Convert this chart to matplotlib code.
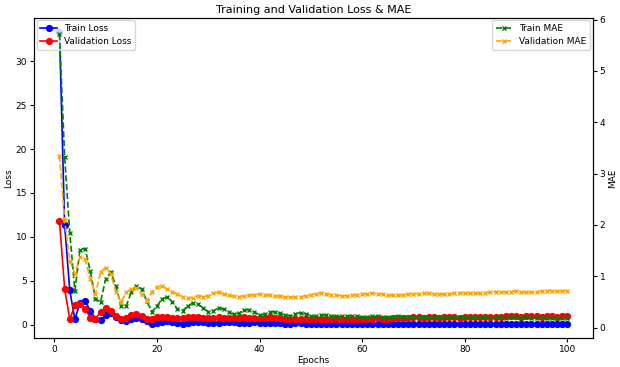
import numpy as np
import matplotlib.pyplot as plt

epochs = list(range(1, 101))

train_loss = [33.3, 11.4, 3.9, 0.6, 2.5, 2.7, 1.6, 0.7, 0.5, 1.1,
              1.3, 0.9, 0.5, 0.4, 0.6, 0.8, 0.6, 0.4, 0.1, 0.2,
              0.3, 0.4, 0.3, 0.15, 0.1, 0.2, 0.3, 0.35, 0.3, 0.2,
              0.15, 0.2, 0.25, 0.3, 0.25, 0.2, 0.15, 0.2, 0.25, 0.2,
              0.15, 0.2, 0.2, 0.15, 0.1, 0.1, 0.15, 0.15, 0.1, 0.1,
              0.1, 0.12, 0.1, 0.1, 0.12, 0.1, 0.1, 0.1, 0.12, 0.1,
              0.1, 0.1, 0.12, 0.1, 0.1, 0.1, 0.1, 0.12, 0.1, 0.1,
              0.1, 0.1, 0.1, 0.12, 0.1, 0.1, 0.1, 0.1, 0.1, 0.1,
              0.1, 0.1, 0.1, 0.1, 0.1, 0.1, 0.1, 0.1, 0.1, 0.1,
              0.1, 0.1, 0.1, 0.1, 0.1, 0.1, 0.1, 0.1, 0.1, 0.1]

val_loss = [11.8, 4.1, 0.6, 2.2, 2.4, 1.8, 0.8, 0.7, 1.4, 1.9,
            1.6, 1.0, 0.7, 0.8, 1.1, 1.2, 1.0, 0.7, 0.7, 0.9,
            0.9, 0.85, 0.8, 0.75, 0.8, 0.85, 0.9, 0.85, 0.8, 0.75,
            0.8, 0.85, 0.8, 0.8, 0.75, 0.8, 0.85, 0.8, 0.75, 0.8,
            0.8, 0.85, 0.8, 0.75, 0.7, 0.65, 0.65, 0.7, 0.7, 0.65,
            0.65, 0.7, 0.7, 0.65, 0.7, 0.7, 0.7, 0.65, 0.7, 0.7,
            0.7, 0.7, 0.75, 0.7, 0.7, 0.75, 0.75, 0.8, 0.8, 0.85,
            0.85, 0.8, 0.85, 0.85, 0.8, 0.85, 0.85, 0.85, 0.8, 0.85,
            0.85, 0.85, 0.9, 0.85, 0.85, 0.9, 0.9, 0.95, 0.95, 0.95,
            0.9, 0.95, 0.95, 0.95, 0.9, 0.95, 0.95, 0.9, 0.95, 0.95]

train_mae = [5.72, 3.33, 1.85, 0.72, 1.52, 1.54, 1.10, 0.56, 0.50, 0.94,
             1.08, 0.81, 0.42, 0.42, 0.69, 0.81, 0.75, 0.52, 0.31, 0.42,
             0.56, 0.60, 0.50, 0.36, 0.33, 0.42, 0.48, 0.46, 0.38, 0.31,
             0.33, 0.38, 0.36, 0.30, 0.26, 0.28, 0.34, 0.35, 0.30, 0.25,
             0.26, 0.30, 0.31, 0.28, 0.24, 0.23, 0.27, 0.29, 0.27, 0.23,
             0.22, 0.24, 0.25, 0.23, 0.22, 0.22, 0.23, 0.23, 0.22, 0.21,
             0.21, 0.22, 0.22, 0.21, 0.21, 0.21, 0.22, 0.21, 0.21, 0.20,
             0.21, 0.21, 0.20, 0.20, 0.21, 0.20, 0.20, 0.20, 0.21, 0.20,
             0.20, 0.20, 0.20, 0.20, 0.19, 0.20, 0.20, 0.19, 0.20, 0.20,
             0.19, 0.20, 0.19, 0.19, 0.20, 0.19, 0.19, 0.19, 0.19, 0.19]

val_mae = [3.35, 2.1, 1.3, 1.05, 1.37, 1.33, 0.94, 0.65, 1.08, 1.17,
           1.04, 0.69, 0.50, 0.69, 0.75, 0.77, 0.65, 0.52, 0.69, 0.79,
           0.81, 0.75, 0.69, 0.65, 0.60, 0.58, 0.58, 0.62, 0.60, 0.62,
           0.67, 0.69, 0.66, 0.63, 0.61, 0.60, 0.62, 0.63, 0.64, 0.65,
           0.64, 0.63, 0.62, 0.61, 0.60, 0.60, 0.59, 0.60, 0.62, 0.64,
           0.66, 0.67, 0.66, 0.64, 0.63, 0.62, 0.62, 0.63, 0.64, 0.65,
           0.66, 0.67, 0.66, 0.65, 0.64, 0.63, 0.63, 0.64, 0.65, 0.66,
           0.66, 0.67, 0.67, 0.66, 0.65, 0.65, 0.66, 0.67, 0.68, 0.68,
           0.68, 0.67, 0.67, 0.68, 0.69, 0.70, 0.70, 0.69, 0.70, 0.71,
           0.70, 0.69, 0.69, 0.70, 0.71, 0.72, 0.72, 0.71, 0.72, 0.72]

fig, ax1 = plt.subplots(figsize=(6.2, 3.67), dpi=100)
fig.subplots_adjust(left=0.055, right=0.956, bottom=0.078, top=0.952)

ax1.plot(epochs, train_loss, "b-o", label="Train Loss", markersize=4.2, linewidth=1.2)
ax1.plot(epochs, val_loss, "r-o", label="Validation Loss", markersize=4.2, linewidth=1.2)
ax1.set_xlabel("Epochs", fontsize=6.5, labelpad=1)
ax1.set_ylabel("Loss", fontsize=6.5, labelpad=2)
ax1.tick_params(labelsize=6.5, length=3, pad=2)
ax1.legend(loc="upper left", fontsize=6.5, borderaxespad=0.3, handlelength=1.8)

ax2 = ax1.twinx()
ax2.plot(epochs, train_mae, "g--x", label="Train MAE", markersize=3.5, linewidth=1.2)
ax2.plot(epochs, val_mae, "--x", color="orange", label="Validation MAE", markersize=3.5, linewidth=1.2)
ax2.set_ylabel("MAE", fontsize=6.5, labelpad=2)
ax2.tick_params(labelsize=6.5, length=3, pad=2)
ax2.set_ylim(-0.21, 6.04)
ax2.legend(loc="upper right", fontsize=6.5, borderaxespad=0.3, handlelength=1.8)

plt.title("Training and Validation Loss & MAE", fontsize=8, pad=3)
plt.savefig("out.png")
